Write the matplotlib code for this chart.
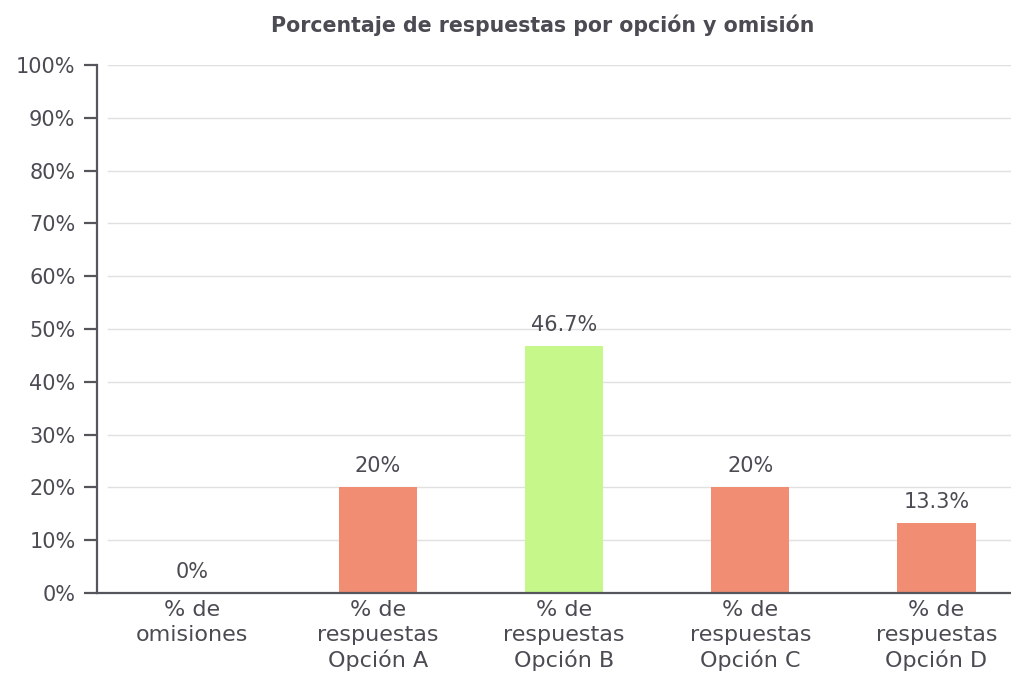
import matplotlib
matplotlib.use("Agg")
import matplotlib.pyplot as plt

categories = ["% de\nomisiones", "% de\nrespuestas\nOpción A", "% de\nrespuestas\nOpción B",
              "% de\nrespuestas\nOpción C", "% de\nrespuestas\nOpción D"]
values = [0, 20, 46.7, 20, 13.3]
value_labels = ["0%", "20%", "46.7%", "20%", "13.3%"]
colors = ["#F08D72", "#F08D72", "#C5F78A", "#F08D72", "#F08D72"]
yticks = [0, 10, 20, 30, 40, 50, 60, 70, 80, 90, 100]
ytick_labels = [f"{t}%" for t in yticks]
title = "Porcentaje de respuestas por opción y omisión"

TXT = "#4b4b53"
plt.rcParams['font.family'] = ['DejaVu Sans']

fig = plt.figure(figsize=(10.11, 6.73), dpi=100)
ax = fig.add_axes([97/1011, 1-593/673, 1-97/1011, (593-65)/673])

x = list(range(len(categories)))
ax.bar(x, values, width=0.42, color=colors, zorder=3)

for xi, v, lab in zip(x, values, value_labels):
    ax.annotate(lab, (xi, v), xytext=(0, 8), textcoords="offset points",
                ha="center", va="bottom", fontsize=15, color=TXT)

ax.set_xlim(-0.51, 4.40)
ax.set_ylim(0, 100)
ax.set_yticks(yticks)
ax.set_yticklabels(ytick_labels)
ax.set_xticks(x)
ax.set_xticklabels(categories, linespacing=1.3)

for t in yticks[1:]:
    ax.axhline(t, xmin=0.012, xmax=1, color="#e0e0e0", lw=1, zorder=1)

for s in ["top", "right"]:
    ax.spines[s].set_visible(False)
for s in ["left", "bottom"]:
    ax.spines[s].set_color("#55555c")
    ax.spines[s].set_linewidth(1.6)
ax.spines["bottom"].set_zorder(4)

ax.tick_params(axis="y", length=9.5, width=1.6, color="#55555c", labelsize=15,
               labelcolor=TXT, pad=6)
ax.tick_params(axis="x", length=0, labelsize=16, labelcolor=TXT, pad=5)

fig.text(0.537, 1-25/673, title, ha="center", va="center", fontsize=14.8,
         fontweight="bold", color=TXT)

fig.savefig("out.png", dpi=100)
